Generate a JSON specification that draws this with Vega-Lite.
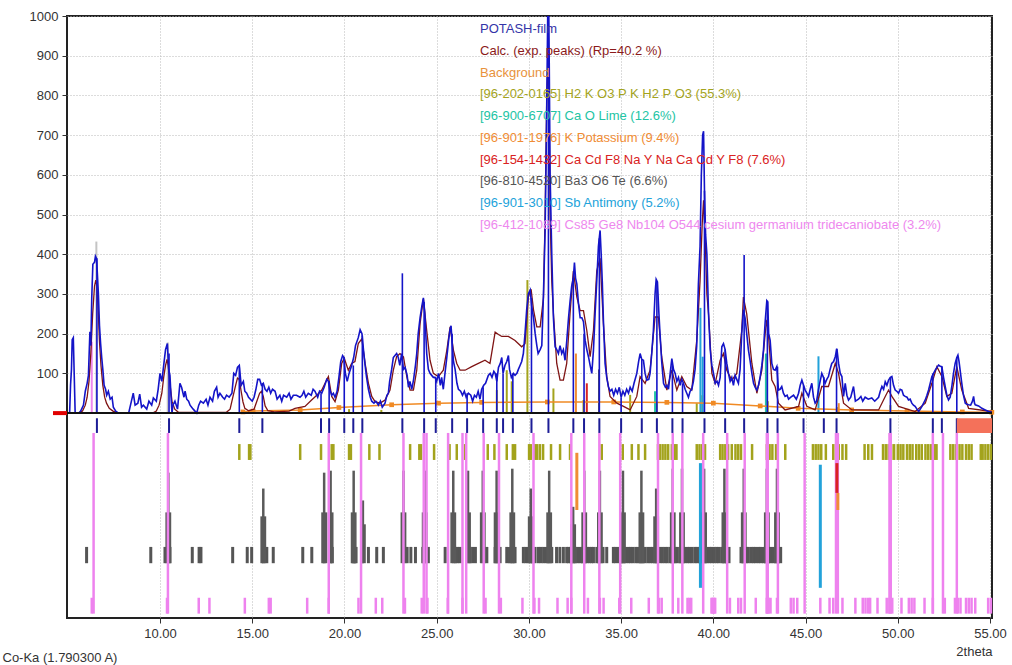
{
"$schema": "https://vega.github.io/schema/vega-lite/v6.json",
"width": 925, "height": 602,
"autosize": "none",
"padding": {"left": 67, "top": 16, "right": 20, "bottom": 47},
"background": "white",
"config": {"view": {"stroke": "#222", "strokeWidth": 2}, "font": "Liberation Sans"},
"datasets": {
"obs": [{"x":5.0,"y":0},{"x":5.1,"y":0},{"x":5.15,"y":70},{"x":5.2,"y":110},{"x":5.24,"y":185},{"x":5.3,"y":190},{"x":5.35,"y":95},{"x":5.4,"y":0},{"x":5.6,"y":0},{"x":5.7,"y":5},{"x":5.85,"y":20},{"x":5.95,"y":55},{"x":6.05,"y":75},{"x":6.12,"y":95},{"x":6.2,"y":205},{"x":6.25,"y":170},{"x":6.3,"y":290},{"x":6.36,"y":375},{"x":6.45,"y":380},{"x":6.5,"y":395},{"x":6.55,"y":390},{"x":6.6,"y":355},{"x":6.66,"y":300},{"x":6.72,"y":220},{"x":6.78,"y":175},{"x":6.84,"y":140},{"x":6.9,"y":110},{"x":6.97,"y":70},{"x":7.05,"y":60},{"x":7.11,"y":45},{"x":7.2,"y":55},{"x":7.3,"y":35},{"x":7.4,"y":40},{"x":7.47,"y":15},{"x":7.6,"y":5},{"x":7.75,"y":0},{"x":8.3,"y":0},{"x":8.45,"y":30},{"x":8.55,"y":50},{"x":8.65,"y":20},{"x":8.8,"y":25},{"x":8.9,"y":48},{"x":9.0,"y":15},{"x":9.1,"y":20},{"x":9.28,"y":10},{"x":9.4,"y":30},{"x":9.55,"y":20},{"x":9.64,"y":38},{"x":9.8,"y":30},{"x":9.9,"y":60},{"x":10.0,"y":100},{"x":10.1,"y":80},{"x":10.2,"y":120},{"x":10.3,"y":160},{"x":10.4,"y":175},{"x":10.47,"y":110},{"x":10.54,"y":95},{"x":10.6,"y":40},{"x":10.65,"y":0},{"x":10.7,"y":20},{"x":10.81,"y":30},{"x":10.95,"y":10},{"x":11.08,"y":75},{"x":11.17,"y":65},{"x":11.3,"y":40},{"x":11.36,"y":55},{"x":11.45,"y":35},{"x":11.55,"y":30},{"x":11.63,"y":20},{"x":11.8,"y":10},{"x":11.99,"y":0},{"x":12.1,"y":20},{"x":12.2,"y":30},{"x":12.35,"y":25},{"x":12.5,"y":35},{"x":12.6,"y":20},{"x":12.71,"y":40},{"x":12.85,"y":30},{"x":12.95,"y":55},{"x":13.07,"y":65},{"x":13.15,"y":40},{"x":13.25,"y":50},{"x":13.4,"y":40},{"x":13.5,"y":35},{"x":13.61,"y":45},{"x":13.75,"y":40},{"x":13.9,"y":50},{"x":14.0,"y":100},{"x":14.1,"y":95},{"x":14.2,"y":115},{"x":14.3,"y":120},{"x":14.4,"y":70},{"x":14.52,"y":80},{"x":14.6,"y":55},{"x":14.7,"y":50},{"x":14.8,"y":40},{"x":14.9,"y":35},{"x":15.0,"y":30},{"x":15.1,"y":40},{"x":15.2,"y":60},{"x":15.3,"y":85},{"x":15.4,"y":85},{"x":15.5,"y":70},{"x":15.6,"y":75},{"x":15.7,"y":60},{"x":15.8,"y":55},{"x":15.9,"y":65},{"x":16.0,"y":50},{"x":16.1,"y":60},{"x":16.24,"y":55},{"x":16.35,"y":35},{"x":16.5,"y":45},{"x":16.6,"y":30},{"x":16.7,"y":45},{"x":16.87,"y":40},{"x":17.0,"y":50},{"x":17.1,"y":35},{"x":17.23,"y":45},{"x":17.4,"y":45},{"x":17.59,"y":40},{"x":17.7,"y":45},{"x":17.8,"y":55},{"x":17.9,"y":40},{"x":18.04,"y":50},{"x":18.2,"y":45},{"x":18.3,"y":60},{"x":18.4,"y":55},{"x":18.55,"y":40},{"x":18.65,"y":55},{"x":18.77,"y":50},{"x":18.9,"y":65},{"x":19.04,"y":85},{"x":19.13,"y":80},{"x":19.2,"y":60},{"x":19.31,"y":45},{"x":19.4,"y":50},{"x":19.49,"y":40},{"x":19.6,"y":55},{"x":19.7,"y":90},{"x":19.8,"y":130},{"x":19.9,"y":145},{"x":19.97,"y":140},{"x":20.05,"y":100},{"x":20.15,"y":80},{"x":20.25,"y":100},{"x":20.39,"y":120},{"x":20.5,"y":140},{"x":20.6,"y":170},{"x":20.75,"y":190},{"x":20.85,"y":210},{"x":20.95,"y":200},{"x":21.03,"y":160},{"x":21.12,"y":120},{"x":21.2,"y":90},{"x":21.3,"y":60},{"x":21.4,"y":40},{"x":21.48,"y":30},{"x":21.6,"y":25},{"x":21.7,"y":30},{"x":21.84,"y":20},{"x":21.95,"y":30},{"x":22.05,"y":15},{"x":22.2,"y":25},{"x":22.3,"y":45},{"x":22.38,"y":50},{"x":22.45,"y":80},{"x":22.56,"y":110},{"x":22.65,"y":140},{"x":22.74,"y":145},{"x":22.83,"y":150},{"x":22.92,"y":140},{"x":23.0,"y":120},{"x":23.1,"y":150},{"x":23.2,"y":110},{"x":23.29,"y":115},{"x":23.4,"y":95},{"x":23.47,"y":65},{"x":23.55,"y":80},{"x":23.65,"y":60},{"x":23.75,"y":85},{"x":23.85,"y":120},{"x":23.92,"y":150},{"x":24.0,"y":200},{"x":24.1,"y":240},{"x":24.2,"y":270},{"x":24.28,"y":290},{"x":24.36,"y":250},{"x":24.46,"y":150},{"x":24.55,"y":110},{"x":24.64,"y":100},{"x":24.73,"y":95},{"x":24.82,"y":90},{"x":24.91,"y":90},{"x":25.0,"y":80},{"x":25.1,"y":100},{"x":25.2,"y":70},{"x":25.27,"y":90},{"x":25.36,"y":60},{"x":25.45,"y":100},{"x":25.55,"y":140},{"x":25.64,"y":180},{"x":25.72,"y":210},{"x":25.78,"y":220},{"x":25.85,"y":170},{"x":25.91,"y":130},{"x":26.0,"y":110},{"x":26.1,"y":75},{"x":26.18,"y":60},{"x":26.3,"y":55},{"x":26.4,"y":45},{"x":26.5,"y":55},{"x":26.6,"y":40},{"x":26.72,"y":50},{"x":26.85,"y":45},{"x":26.95,"y":30},{"x":27.05,"y":45},{"x":27.15,"y":40},{"x":27.25,"y":55},{"x":27.35,"y":35},{"x":27.44,"y":60},{"x":27.55,"y":70},{"x":27.65,"y":75},{"x":27.8,"y":95},{"x":27.9,"y":100},{"x":28.0,"y":90},{"x":28.1,"y":105},{"x":28.17,"y":100},{"x":28.26,"y":80},{"x":28.35,"y":115},{"x":28.45,"y":125},{"x":28.53,"y":140},{"x":28.6,"y":100},{"x":28.7,"y":120},{"x":28.8,"y":130},{"x":28.89,"y":145},{"x":28.95,"y":110},{"x":29.05,"y":90},{"x":29.16,"y":100},{"x":29.25,"y":95},{"x":29.35,"y":100},{"x":29.43,"y":110},{"x":29.52,"y":120},{"x":29.61,"y":130},{"x":29.7,"y":150},{"x":29.79,"y":200},{"x":29.88,"y":260},{"x":29.97,"y":300},{"x":30.07,"y":310},{"x":30.15,"y":270},{"x":30.25,"y":240},{"x":30.34,"y":200},{"x":30.43,"y":170},{"x":30.5,"y":150},{"x":30.61,"y":160},{"x":30.7,"y":170},{"x":30.79,"y":300},{"x":30.88,"y":460},{"x":30.95,"y":700},{"x":31.02,"y":1000},{"x":31.06,"y":1050},{"x":31.1,"y":900},{"x":31.15,"y":600},{"x":31.24,"y":400},{"x":31.33,"y":240},{"x":31.42,"y":167},{"x":31.51,"y":160},{"x":31.6,"y":150},{"x":31.69,"y":170},{"x":31.78,"y":150},{"x":31.87,"y":160},{"x":31.96,"y":133},{"x":32.05,"y":180},{"x":32.15,"y":240},{"x":32.23,"y":280},{"x":32.32,"y":320},{"x":32.41,"y":340},{"x":32.47,"y":379},{"x":32.53,"y":340},{"x":32.6,"y":325},{"x":32.69,"y":275},{"x":32.78,"y":240},{"x":32.87,"y":240},{"x":32.96,"y":230},{"x":33.05,"y":183},{"x":33.14,"y":160},{"x":33.23,"y":142},{"x":33.32,"y":120},{"x":33.41,"y":100},{"x":33.5,"y":158},{"x":33.59,"y":250},{"x":33.68,"y":333},{"x":33.77,"y":420},{"x":33.86,"y":460},{"x":33.92,"y":400},{"x":33.98,"y":330},{"x":34.04,"y":233},{"x":34.13,"y":125},{"x":34.22,"y":90},{"x":34.31,"y":67},{"x":34.4,"y":55},{"x":34.5,"y":60},{"x":34.6,"y":45},{"x":34.7,"y":60},{"x":34.8,"y":50},{"x":34.9,"y":65},{"x":35.0,"y":40},{"x":35.1,"y":55},{"x":35.2,"y":45},{"x":35.3,"y":60},{"x":35.4,"y":50},{"x":35.49,"y":65},{"x":35.6,"y":55},{"x":35.7,"y":75},{"x":35.85,"y":100},{"x":35.95,"y":130},{"x":36.03,"y":150},{"x":36.12,"y":135},{"x":36.21,"y":133},{"x":36.3,"y":100},{"x":36.39,"y":83},{"x":36.5,"y":85},{"x":36.57,"y":100},{"x":36.66,"y":150},{"x":36.75,"y":208},{"x":36.84,"y":300},{"x":36.9,"y":337},{"x":36.97,"y":330},{"x":37.05,"y":250},{"x":37.11,"y":200},{"x":37.2,"y":130},{"x":37.3,"y":75},{"x":37.4,"y":65},{"x":37.48,"y":70},{"x":37.57,"y":60},{"x":37.66,"y":100},{"x":37.75,"y":137},{"x":37.84,"y":110},{"x":37.93,"y":100},{"x":38.02,"y":80},{"x":38.11,"y":90},{"x":38.2,"y":70},{"x":38.29,"y":85},{"x":38.38,"y":75},{"x":38.47,"y":60},{"x":38.56,"y":50},{"x":38.65,"y":40},{"x":38.74,"y":55},{"x":38.83,"y":60},{"x":38.92,"y":80},{"x":39.01,"y":110},{"x":39.1,"y":170},{"x":39.19,"y":325},{"x":39.28,"y":420},{"x":39.35,"y":600},{"x":39.42,"y":700},{"x":39.47,"y":710},{"x":39.52,"y":560},{"x":39.58,"y":450},{"x":39.65,"y":400},{"x":39.74,"y":250},{"x":39.83,"y":160},{"x":39.92,"y":120},{"x":40.01,"y":100},{"x":40.1,"y":75},{"x":40.2,"y":80},{"x":40.28,"y":70},{"x":40.37,"y":90},{"x":40.46,"y":167},{"x":40.55,"y":175},{"x":40.64,"y":160},{"x":40.73,"y":125},{"x":40.82,"y":100},{"x":40.91,"y":80},{"x":41.0,"y":90},{"x":41.09,"y":70},{"x":41.18,"y":95},{"x":41.27,"y":85},{"x":41.36,"y":75},{"x":41.45,"y":110},{"x":41.54,"y":200},{"x":41.63,"y":260},{"x":41.72,"y":240},{"x":41.81,"y":200},{"x":41.9,"y":160},{"x":41.99,"y":133},{"x":42.09,"y":100},{"x":42.18,"y":75},{"x":42.27,"y":65},{"x":42.36,"y":58},{"x":42.45,"y":70},{"x":42.54,"y":92},{"x":42.63,"y":120},{"x":42.72,"y":160},{"x":42.81,"y":230},{"x":42.9,"y":283},{"x":42.95,"y":280},{"x":43.0,"y":200},{"x":43.08,"y":183},{"x":43.17,"y":125},{"x":43.26,"y":110},{"x":43.35,"y":108},{"x":43.44,"y":117},{"x":43.53,"y":58},{"x":43.62,"y":60},{"x":43.71,"y":67},{"x":43.8,"y":50},{"x":43.89,"y":42},{"x":44.0,"y":45},{"x":44.08,"y":35},{"x":44.2,"y":40},{"x":44.35,"y":45},{"x":44.5,"y":35},{"x":44.62,"y":50},{"x":44.71,"y":70},{"x":44.8,"y":83},{"x":44.89,"y":70},{"x":44.98,"y":58},{"x":45.07,"y":50},{"x":45.16,"y":42},{"x":45.25,"y":60},{"x":45.34,"y":75},{"x":45.43,"y":40},{"x":45.52,"y":25},{"x":45.6,"y":30},{"x":45.7,"y":60},{"x":45.79,"y":80},{"x":45.88,"y":100},{"x":45.97,"y":90},{"x":46.06,"y":75},{"x":46.15,"y":85},{"x":46.24,"y":92},{"x":46.33,"y":110},{"x":46.42,"y":125},{"x":46.52,"y":130},{"x":46.61,"y":142},{"x":46.7,"y":162},{"x":46.79,"y":125},{"x":46.88,"y":100},{"x":46.97,"y":92},{"x":47.06,"y":42},{"x":47.15,"y":75},{"x":47.24,"y":45},{"x":47.33,"y":33},{"x":47.45,"y":40},{"x":47.6,"y":67},{"x":47.7,"y":30},{"x":47.87,"y":35},{"x":48.0,"y":42},{"x":48.1,"y":30},{"x":48.23,"y":40},{"x":48.4,"y":35},{"x":48.59,"y":38},{"x":48.75,"y":30},{"x":48.96,"y":40},{"x":49.05,"y":55},{"x":49.14,"y":67},{"x":49.23,"y":60},{"x":49.32,"y":79},{"x":49.41,"y":70},{"x":49.5,"y":83},{"x":49.6,"y":90},{"x":49.68,"y":92},{"x":49.77,"y":70},{"x":49.86,"y":58},{"x":49.95,"y":55},{"x":50.04,"y":50},{"x":50.13,"y":60},{"x":50.22,"y":58},{"x":50.31,"y":45},{"x":50.4,"y":42},{"x":50.5,"y":40},{"x":50.58,"y":33},{"x":50.67,"y":35},{"x":50.76,"y":25},{"x":50.85,"y":20},{"x":50.94,"y":17},{"x":51.04,"y":10},{"x":51.13,"y":4},{"x":51.22,"y":10},{"x":51.31,"y":17},{"x":51.4,"y":25},{"x":51.49,"y":33},{"x":51.58,"y":45},{"x":51.67,"y":58},{"x":51.76,"y":75},{"x":51.85,"y":92},{"x":51.94,"y":100},{"x":52.03,"y":108},{"x":52.12,"y":115},{"x":52.21,"y":121},{"x":52.3,"y":118},{"x":52.39,"y":117},{"x":52.48,"y":90},{"x":52.57,"y":67},{"x":52.66,"y":45},{"x":52.75,"y":33},{"x":52.84,"y":40},{"x":52.93,"y":67},{"x":53.02,"y":100},{"x":53.11,"y":125},{"x":53.2,"y":140},{"x":53.26,"y":146},{"x":53.32,"y":130},{"x":53.38,"y":108},{"x":53.47,"y":75},{"x":53.56,"y":45},{"x":53.66,"y":25},{"x":53.75,"y":22},{"x":53.84,"y":21},{"x":53.95,"y":20},{"x":54.05,"y":30},{"x":54.11,"y":42},{"x":54.16,"y":25},{"x":54.2,"y":21},{"x":54.38,"y":18},{"x":54.56,"y":12},{"x":54.74,"y":8},{"x":54.92,"y":4},{"x":55.1,"y":2}],
"calc": [{"x":5.0,"y":0},{"x":5.6,"y":0},{"x":5.8,"y":5},{"x":5.95,"y":20},{"x":6.05,"y":40},{"x":6.15,"y":80},{"x":6.25,"y":150},{"x":6.35,"y":250},{"x":6.45,"y":320},{"x":6.52,"y":335},{"x":6.58,"y":320},{"x":6.65,"y":260},{"x":6.72,"y":180},{"x":6.8,"y":120},{"x":6.9,"y":70},{"x":7.0,"y":40},{"x":7.1,"y":25},{"x":7.25,"y":12},{"x":7.45,"y":5},{"x":7.7,"y":0},{"x":9.6,"y":0},{"x":9.8,"y":5},{"x":9.95,"y":20},{"x":10.1,"y":50},{"x":10.2,"y":90},{"x":10.3,"y":120},{"x":10.38,"y":135},{"x":10.45,"y":120},{"x":10.55,"y":70},{"x":10.65,"y":30},{"x":10.8,"y":10},{"x":11.0,"y":2},{"x":13.6,"y":2},{"x":13.8,"y":10},{"x":13.95,"y":40},{"x":14.1,"y":70},{"x":14.2,"y":88},{"x":14.3,"y":85},{"x":14.4,"y":55},{"x":14.5,"y":28},{"x":14.6,"y":12},{"x":14.8,"y":6},{"x":15.1,"y":10},{"x":15.25,"y":30},{"x":15.4,"y":50},{"x":15.5,"y":55},{"x":15.6,"y":42},{"x":15.7,"y":18},{"x":15.85,"y":6},{"x":16.2,"y":3},{"x":17.0,"y":5},{"x":17.32,"y":12},{"x":17.86,"y":17},{"x":18.22,"y":33},{"x":18.5,"y":45},{"x":18.77,"y":58},{"x":18.95,"y":75},{"x":19.13,"y":92},{"x":19.31,"y":42},{"x":19.49,"y":29},{"x":19.67,"y":58},{"x":19.85,"y":125},{"x":19.99,"y":138},{"x":20.21,"y":108},{"x":20.39,"y":125},{"x":20.57,"y":130},{"x":20.75,"y":175},{"x":20.94,"y":187},{"x":21.12,"y":125},{"x":21.3,"y":75},{"x":21.48,"y":42},{"x":21.66,"y":29},{"x":21.93,"y":25},{"x":22.2,"y":33},{"x":22.47,"y":58},{"x":22.65,"y":108},{"x":22.83,"y":142},{"x":23.01,"y":150},{"x":23.2,"y":142},{"x":23.38,"y":92},{"x":23.56,"y":58},{"x":23.74,"y":58},{"x":23.92,"y":108},{"x":24.1,"y":225},{"x":24.28,"y":288},{"x":24.46,"y":208},{"x":24.64,"y":133},{"x":24.82,"y":100},{"x":25.09,"y":92},{"x":25.36,"y":108},{"x":25.55,"y":158},{"x":25.73,"y":217},{"x":25.91,"y":158},{"x":26.09,"y":125},{"x":26.27,"y":108},{"x":26.54,"y":108},{"x":26.9,"y":117},{"x":27.26,"y":125},{"x":27.62,"y":133},{"x":27.89,"y":125},{"x":28.05,"y":170},{"x":28.17,"y":204},{"x":28.35,"y":198},{"x":28.53,"y":193},{"x":28.89,"y":193},{"x":29.25,"y":183},{"x":29.61,"y":167},{"x":29.79,"y":175},{"x":29.97,"y":292},{"x":30.12,"y":312},{"x":30.25,"y":260},{"x":30.43,"y":217},{"x":30.61,"y":217},{"x":30.79,"y":290},{"x":30.88,"y":500},{"x":30.97,"y":800},{"x":31.04,"y":880},{"x":31.1,"y":750},{"x":31.15,"y":500},{"x":31.24,"y":333},{"x":31.33,"y":250},{"x":31.51,"y":125},{"x":31.69,"y":83},{"x":31.87,"y":83},{"x":32.05,"y":125},{"x":32.23,"y":250},{"x":32.41,"y":358},{"x":32.6,"y":292},{"x":32.78,"y":258},{"x":32.96,"y":258},{"x":33.14,"y":208},{"x":33.32,"y":142},{"x":33.5,"y":208},{"x":33.68,"y":358},{"x":33.86,"y":390},{"x":34.04,"y":225},{"x":34.22,"y":92},{"x":34.4,"y":42},{"x":34.77,"y":25},{"x":35.13,"y":17},{"x":35.49,"y":8},{"x":35.85,"y":42},{"x":36.03,"y":92},{"x":36.3,"y":75},{"x":36.57,"y":108},{"x":36.84,"y":242},{"x":37.02,"y":242},{"x":37.2,"y":142},{"x":37.48,"y":58},{"x":37.75,"y":108},{"x":38.02,"y":58},{"x":38.29,"y":92},{"x":38.56,"y":67},{"x":38.83,"y":58},{"x":39.1,"y":183},{"x":39.28,"y":333},{"x":39.4,"y":480},{"x":39.47,"y":536},{"x":39.55,"y":450},{"x":39.65,"y":300},{"x":39.74,"y":250},{"x":39.92,"y":100},{"x":40.1,"y":75},{"x":40.37,"y":133},{"x":40.55,"y":150},{"x":40.73,"y":108},{"x":41.0,"y":83},{"x":41.27,"y":100},{"x":41.54,"y":208},{"x":41.63,"y":292},{"x":41.81,"y":250},{"x":42.09,"y":125},{"x":42.36,"y":50},{"x":42.63,"y":108},{"x":42.81,"y":200},{"x":42.9,"y":235},{"x":43.0,"y":190},{"x":43.17,"y":83},{"x":43.35,"y":67},{"x":43.53,"y":25},{"x":43.89,"y":8},{"x":44.62,"y":17},{"x":44.8,"y":50},{"x":45.07,"y":17},{"x":45.52,"y":8},{"x":45.88,"y":67},{"x":46.24,"y":67},{"x":46.61,"y":125},{"x":46.79,"y":100},{"x":47.06,"y":25},{"x":47.51,"y":8},{"x":48.96,"y":8},{"x":49.32,"y":42},{"x":49.5,"y":58},{"x":49.68,"y":42},{"x":50.04,"y":17},{"x":50.94,"y":4},{"x":51.49,"y":25},{"x":51.85,"y":75},{"x":52.12,"y":117},{"x":52.39,"y":92},{"x":52.66,"y":42},{"x":52.93,"y":50},{"x":53.2,"y":117},{"x":53.47,"y":58},{"x":53.84,"y":12},{"x":55.1,"y":4}],
"bg": [{"x":14.5,"y":3},{"x":15.05,"y":5},{"x":17.6,"y":8},{"x":19.7,"y":14},{"x":22.56,"y":21},{"x":25.1,"y":25},{"x":27.44,"y":27},{"x":31.0,"y":28},{"x":34.6,"y":28},{"x":37.48,"y":27},{"x":40.0,"y":25},{"x":42.54,"y":18},{"x":44.6,"y":12},{"x":47.5,"y":8},{"x":50.5,"y":5},{"x":53.5,"y":3},{"x":55.1,"y":2}],
"peaks": [{"x":6.58,"i":390},{"x":10.49,"i":150},{"x":14.3,"i":115},{"x":15.55,"i":75},{"x":18.73,"i":50},{"x":19.17,"i":80},{"x":19.99,"i":140},{"x":20.48,"i":120},{"x":20.97,"i":195},{"x":23.14,"i":352},{"x":24.32,"i":280},{"x":24.95,"i":90},{"x":25.84,"i":200},{"x":26.65,"i":50},{"x":27.52,"i":65},{"x":28.26,"i":100},{"x":28.6,"i":100},{"x":29.13,"i":100},{"x":30.14,"i":290},{"x":31.06,"i":1000},{"x":32.41,"i":340},{"x":32.99,"i":200},{"x":33.82,"i":440},{"x":35.0,"i":40},{"x":36.12,"i":135},{"x":36.94,"i":330},{"x":37.78,"i":120},{"x":38.33,"i":75},{"x":39.52,"i":560},{"x":40.64,"i":160},{"x":41.67,"i":398},{"x":42.93,"i":283},{"x":43.48,"i":117},{"x":44.89,"i":70},{"x":45.99,"i":90},{"x":46.68,"i":162},{"x":49.6,"i":90},{"x":51.9,"i":100},{"x":52.39,"i":117},{"x":53.2,"i":140}],
"upsticks": [{"x":6.55,"i":432,"k":"ref"},{"x":10.42,"i":178,"k":"ref"},{"x":6.3,"i":180,"k":"cs"},{"x":20.25,"i":10,"k":"kp"},{"x":22.0,"i":8,"k":"kp"},{"x":28.26,"i":58,"k":"kp"},{"x":28.8,"i":108,"k":"kp"},{"x":29.07,"i":80,"k":"kp"},{"x":29.92,"i":335,"k":"kp"},{"x":31.33,"i":62,"k":"kp"},{"x":32.96,"i":33,"k":"kp"},{"x":35.49,"i":46,"k":"kp"},{"x":36.93,"i":25,"k":"kp"},{"x":39.1,"i":25,"k":"kp"},{"x":39.4,"i":45,"k":"kp"},{"x":42.95,"i":30,"k":"kp"},{"x":46.7,"i":15,"k":"kp"},{"x":49.6,"i":20,"k":"kp"},{"x":32.55,"i":150,"k":"k"},{"x":46.8,"i":25,"k":"k"},{"x":33.14,"i":75,"k":"cacd"},{"x":33.8,"i":110,"k":"ba"},{"x":36.84,"i":55,"k":"lime"},{"x":42.85,"i":150,"k":"lime"},{"x":39.3,"i":265,"k":"sb"},{"x":39.42,"i":142,"k":"sb"},{"x":45.7,"i":143,"k":"sb"}],
"lowsticks": [{"x":39.3,"t":-126,"b":-440,"k":"sb"},{"x":45.8,"t":-130,"b":-440,"k":"sb"},{"x":32.6,"t":-100,"b":-244,"k":"k"},{"x":46.75,"t":-201,"b":-244,"k":"k"},{"x":46.7,"t":-126,"b":-201,"k":"cacd"}],
"olive": [{"x":14.3},{"x":14.83},{"x":14.9},{"x":17.6},{"x":18.73},{"x":19.31},{"x":19.4},{"x":20.25},{"x":20.35},{"x":21.35},{"x":21.9},{"x":23.56},{"x":24.06},{"x":24.15},{"x":24.86},{"x":25.64},{"x":25.7},{"x":26.09},{"x":26.54},{"x":27.77},{"x":28.13},{"x":28.8},{"x":29.13},{"x":29.25},{"x":30.01},{"x":30.1},{"x":30.34},{"x":30.45},{"x":30.6},{"x":30.77},{"x":31.2},{"x":31.69},{"x":32.23},{"x":33.95},{"x":35.09},{"x":35.58},{"x":35.94},{"x":36.3},{"x":37.0},{"x":37.1},{"x":37.25},{"x":37.4},{"x":37.55},{"x":37.75},{"x":37.9},{"x":38.0},{"x":39.1},{"x":39.25},{"x":39.4},{"x":39.55},{"x":40.37},{"x":40.5},{"x":40.65},{"x":40.8},{"x":41.0},{"x":41.2},{"x":41.35},{"x":41.5},{"x":42.1},{"x":42.9},{"x":43.05},{"x":43.2},{"x":43.4},{"x":43.9},{"x":45.4},{"x":45.55},{"x":45.7},{"x":45.85},{"x":46.1},{"x":46.5},{"x":46.65},{"x":46.8},{"x":47.0},{"x":47.2},{"x":48.2},{"x":48.4},{"x":48.6},{"x":49.2},{"x":49.35},{"x":49.5},{"x":49.65},{"x":49.8},{"x":50.0},{"x":50.15},{"x":50.3},{"x":50.5},{"x":50.65},{"x":50.8},{"x":51.0},{"x":51.15},{"x":51.3},{"x":51.5},{"x":51.65},{"x":51.8},{"x":52.0},{"x":52.1},{"x":52.85},{"x":53.0},{"x":53.15},{"x":53.35},{"x":53.5},{"x":53.7},{"x":53.85},{"x":54.0},{"x":54.5},{"x":54.6},{"x":54.75},{"x":54.9},{"x":55.05}],
"grayd": [{"x":6.02},{"x":9.5},{"x":10.27},{"x":10.54},{"x":11.75},{"x":12.12},{"x":12.22},{"x":13.94},{"x":14.73},{"x":14.97},{"x":15.6},{"x":15.79},{"x":16.14},{"x":17.74},{"x":18.23},{"x":18.89},{"x":19.22},{"x":19.34},{"x":20.47},{"x":20.55},{"x":20.63},{"x":20.94},{"x":21.3},{"x":21.75},{"x":22.11},{"x":23.4},{"x":23.6},{"x":23.85},{"x":24.25},{"x":24.4},{"x":24.55},{"x":25.46},{"x":26.0},{"x":26.13},{"x":26.27},{"x":26.81},{"x":26.95},{"x":27.1},{"x":27.72},{"x":28.17},{"x":28.3},{"x":28.44},{"x":28.8},{"x":28.95},{"x":29.1},{"x":29.25},{"x":29.7},{"x":29.83},{"x":29.96},{"x":30.1},{"x":30.22},{"x":30.34},{"x":30.52},{"x":30.66},{"x":30.8},{"x":30.94},{"x":31.08},{"x":31.24},{"x":31.5},{"x":31.68},{"x":31.87},{"x":32.05},{"x":32.15},{"x":32.27},{"x":32.4},{"x":32.52},{"x":32.65},{"x":32.78},{"x":32.9},{"x":33.02},{"x":33.15},{"x":33.28},{"x":33.4},{"x":33.5},{"x":33.68},{"x":33.85},{"x":34.02},{"x":34.22},{"x":34.58},{"x":34.7},{"x":34.85},{"x":35.0},{"x":35.12},{"x":35.25},{"x":35.4},{"x":35.52},{"x":35.65},{"x":35.8},{"x":35.92},{"x":36.05},{"x":36.18},{"x":36.3},{"x":36.45},{"x":36.58},{"x":36.7},{"x":36.85},{"x":36.98},{"x":37.1},{"x":37.24},{"x":37.38},{"x":37.5},{"x":37.65},{"x":37.78},{"x":37.92},{"x":38.05},{"x":38.2},{"x":38.32},{"x":38.45},{"x":38.6},{"x":38.72},{"x":38.85},{"x":39.0},{"x":39.12},{"x":39.25},{"x":39.38},{"x":39.5},{"x":39.65},{"x":39.78},{"x":39.9},{"x":40.05},{"x":40.18},{"x":40.3},{"x":40.45},{"x":40.58},{"x":40.72},{"x":40.85},{"x":41.5},{"x":41.63},{"x":41.78},{"x":41.9},{"x":42.05},{"x":42.18},{"x":42.3},{"x":42.45},{"x":42.58},{"x":42.72},{"x":42.85},{"x":43.0},{"x":43.12},{"x":43.25},{"x":43.4},{"x":43.52},{"x":43.65}],
"grayt": [{"x":10.45,"t":-150},{"x":10.36,"t":-250},{"x":10.54,"t":-250},{"x":15.6,"t":-190},{"x":15.51,"t":-260},{"x":15.69,"t":-260},{"x":18.9,"t":-150},{"x":18.81,"t":-250},{"x":18.99,"t":-250},{"x":19.25,"t":-145},{"x":19.16,"t":-250},{"x":19.34,"t":-250},{"x":20.5,"t":-145},{"x":20.41,"t":-250},{"x":20.59,"t":-250},{"x":21.0,"t":-220},{"x":20.91,"t":-280},{"x":21.09,"t":-280},{"x":23.2,"t":-145},{"x":23.11,"t":-250},{"x":23.29,"t":-250},{"x":24.35,"t":-145},{"x":24.26,"t":-250},{"x":24.44,"t":-250},{"x":25.9,"t":-145},{"x":25.81,"t":-250},{"x":25.99,"t":-250},{"x":26.7,"t":-145},{"x":26.61,"t":-250},{"x":26.79,"t":-250},{"x":27.5,"t":-145},{"x":27.41,"t":-250},{"x":27.59,"t":-250},{"x":28.25,"t":-145},{"x":28.16,"t":-250},{"x":28.34,"t":-250},{"x":29.1,"t":-140},{"x":29.01,"t":-250},{"x":29.19,"t":-250},{"x":30.1,"t":-190},{"x":30.01,"t":-260},{"x":30.19,"t":-260},{"x":31.1,"t":-145},{"x":31.01,"t":-250},{"x":31.19,"t":-250},{"x":32.4,"t":-236},{"x":32.31,"t":-280},{"x":32.49,"t":-280},{"x":33.0,"t":-145},{"x":32.91,"t":-250},{"x":33.09,"t":-250},{"x":33.85,"t":-145},{"x":33.76,"t":-250},{"x":33.94,"t":-250},{"x":35.1,"t":-145},{"x":35.01,"t":-250},{"x":35.19,"t":-250},{"x":36.1,"t":-145},{"x":36.01,"t":-250},{"x":36.19,"t":-250},{"x":36.9,"t":-190},{"x":36.81,"t":-260},{"x":36.99,"t":-260},{"x":37.8,"t":-140},{"x":37.71,"t":-250},{"x":37.89,"t":-250},{"x":38.3,"t":-140},{"x":38.21,"t":-250},{"x":38.39,"t":-250},{"x":39.5,"t":-140},{"x":39.41,"t":-250},{"x":39.59,"t":-250},{"x":40.6,"t":-140},{"x":40.51,"t":-250},{"x":40.69,"t":-250},{"x":41.65,"t":-140},{"x":41.56,"t":-250},{"x":41.74,"t":-250},{"x":42.9,"t":-140},{"x":42.81,"t":-250},{"x":42.99,"t":-250},{"x":43.45,"t":-140},{"x":43.36,"t":-250},{"x":43.54,"t":-250}],
"pinks": [{"x":6.3},{"x":10.38},{"x":12.1},{"x":12.68},{"x":14.6},{"x":15.9},{"x":16.0},{"x":17.98},{"x":19.15},{"x":20.76},{"x":21.7},{"x":22.05},{"x":23.28},{"x":24.19},{"x":24.5},{"x":25.6},{"x":26.4},{"x":27.65},{"x":28.48},{"x":29.65},{"x":30.3},{"x":30.55},{"x":31.55},{"x":32.1},{"x":32.3},{"x":33.2},{"x":33.85},{"x":34.05},{"x":34.9},{"x":35.55},{"x":36.5},{"x":37.05},{"x":37.2},{"x":38.1},{"x":38.6},{"x":38.7},{"x":38.8},{"x":39.9},{"x":39.95},{"x":40.0},{"x":40.05},{"x":40.1},{"x":40.9},{"x":41.35},{"x":41.5},{"x":42.3},{"x":42.9},{"x":43.0},{"x":43.1},{"x":43.45},{"x":44.2},{"x":44.35},{"x":44.55},{"x":45.8},{"x":46.3},{"x":46.5},{"x":47.0},{"x":47.7},{"x":48.1},{"x":48.25},{"x":48.4},{"x":48.5},{"x":48.9},{"x":49.4},{"x":49.55},{"x":49.7},{"x":50.2},{"x":50.6},{"x":50.75},{"x":50.9},{"x":51.45},{"x":51.9},{"x":52.55},{"x":53.1},{"x":53.25},{"x":53.4},{"x":53.7},{"x":53.85},{"x":54.0},{"x":54.2},{"x":54.9},{"x":55.05}],
"pinkl": [{"x":6.4},{"x":10.43},{"x":19.15},{"x":20.9},{"x":23.2},{"x":24.3},{"x":24.45},{"x":25.62},{"x":26.4},{"x":26.6},{"x":27.55},{"x":28.38},{"x":30.25},{"x":32.3},{"x":33.0},{"x":33.82},{"x":34.95},{"x":37.0},{"x":37.8},{"x":38.32},{"x":39.45},{"x":40.75},{"x":41.7},{"x":42.9},{"x":42.95},{"x":43.5},{"x":44.95},{"x":46.65},{"x":46.75},{"x":49.55},{"x":49.62},{"x":51.9},{"x":52.45},{"x":53.2}],
"legend": [{"k":"obs","label":"POTASH-film"},{"k":"calc","label":"Calc. (exp. peaks) (Rp=40.2 %)"},{"k":"bg","label":"Background"},{"k":"kp","label":"[96-202-0165] H2 K O3 P K H2 P O3 (55.3%)"},{"k":"lime","label":"[96-900-6707] Ca O  Lime (12.6%)"},{"k":"k","label":"[96-901-1976] K Potassium (9.4%)"},{"k":"cacd","label":"[96-154-1432] Ca Cd F8 Na Y Na Ca Cd Y F8 (7.6%)"},{"k":"ba","label":"[96-810-4520] Ba3 O6 Te  (6.6%)"},{"k":"sb","label":"[96-901-3010] Sb  Antimony (5.2%)"},{"k":"cs","label":"[96-412-1089] Cs85 Ge8 Nb104 O544 cesium germanium tridecaniobate (3.2%)"}]
},
"layer": [
{"layer": [
 {"data": {"name": "grayd"}, "mark": {"type": "rule", "color": "#555555", "strokeWidth": 3},
  "encoding": {"x": {"field": "x", "type": "quantitative"}, "y": {"datum": -337}, "y2": {"datum": -378}}},
 {"data": {"name": "grayt"}, "mark": {"type": "rule", "color": "#5a5a5a", "strokeWidth": 2.5},
  "encoding": {"x": {"field": "x", "type": "quantitative"}, "y": {"field": "t", "type": "quantitative"}, "y2": {"datum": -378}}},
 {"data": {"name": "olive"}, "mark": {"type": "rule", "color": "#a3a31c", "strokeWidth": 2.5},
  "encoding": {"x": {"field": "x", "type": "quantitative"}, "y": {"datum": -78}, "y2": {"datum": -118}}},
 {"data": {"name": "pinkl"}, "mark": {"type": "rule", "color": "#ee82ee", "strokeWidth": 2.5},
  "encoding": {"x": {"field": "x", "type": "quantitative"}, "y": {"datum": -50}, "y2": {"datum": -505}}},
 {"data": {"name": "pinks"}, "mark": {"type": "rule", "color": "#ee82ee", "strokeWidth": 2.5},
  "encoding": {"x": {"field": "x", "type": "quantitative"}, "y": {"datum": -465}, "y2": {"datum": -505}}},
 {"data": {"name": "lowsticks"}, "mark": {"type": "rule", "strokeWidth": 3},
  "encoding": {"x": {"field": "x", "type": "quantitative"}, "y": {"field": "t", "type": "quantitative"}, "y2": {"field": "b"},
   "color": {"field": "k", "type": "nominal", "legend": null, "scale": {"domain": ["obs","calc","bg","kp","lime","k","cacd","ba","sb","cs","pk","ref"], "range": ["#3434a8","#8b1a1a","#e8923c","#a3a31c","#22c4a4","#f08c34","#d92222","#555555","#22a2da","#ee88ee","#1c1c96","#c4c4c4"]}}}},
 {"data": {"name": "peaks"}, "mark": {"type": "rule", "color": "#1c1c96", "strokeWidth": 2},
  "encoding": {"x": {"field": "x", "type": "quantitative"}, "y": {"datum": -13}, "y2": {"datum": -50}}},
 {"data": {"values": [{}]}, "mark": {"type": "rect", "color": "#f4715a"},
  "encoding": {"x": {"datum": 53.2}, "x2": {"datum": 55.108}, "y": {"datum": -13}, "y2": {"datum": -50}}},
 {"data": {"name": "upsticks"}, "mark": {"type": "rule", "strokeWidth": 2},
  "encoding": {"x": {"field": "x", "type": "quantitative"}, "y": {"field": "i", "type": "quantitative"}, "y2": {"datum": 0},
   "color": {"field": "k", "type": "nominal", "legend": null}}},
 {"data": {"name": "bg"}, "mark": {"type": "line", "color": "#f08a24", "strokeWidth": 1.5, "point": {"shape": "square", "size": 22, "color": "#f08a24", "filled": true}},
  "encoding": {"x": {"field": "x", "type": "quantitative"}, "y": {"field": "y", "type": "quantitative"}}},
 {"data": {"name": "calc"}, "mark": {"type": "line", "color": "#7f1414", "strokeWidth": 1.3, "clip": true},
  "encoding": {"x": {"field": "x", "type": "quantitative"}, "y": {"field": "y", "type": "quantitative"}}},
 {"data": {"name": "obs"}, "mark": {"type": "line", "color": "#1414c8", "strokeWidth": 1.6, "clip": true},
  "encoding": {
   "x": {"field": "x", "type": "quantitative", "scale": {"domain": [4.958, 55.108], "nice": false, "zero": false},
    "axis": {"values": [10,15,20,25,30,35,40,45,50,55], "format": ".2f", "title": "2theta", "grid": true, "gridColor": "#b8b8b8", "gridDash": [1,2], "domain": false, "tickColor": "#333", "tickSize": 5, "labelFontSize": 13, "labelColor": "#333", "labelPadding": 4, "labelFont": "Liberation Sans", "titleFont": "Liberation Sans", "titleFontSize": 13, "titleFontWeight": "normal", "titleColor": "#333", "titleAnchor": "end", "titlePadding": 5}},
   "y": {"field": "y", "type": "quantitative", "scale": {"domain": [-516, 1000], "nice": false, "zero": false},
    "axis": {"values": [100,200,300,400,500,600,700,800,900,1000], "format": "d", "grid": true, "gridColor": "#b8b8b8", "gridDash": [1,2], "domain": false, "tickColor": "#333", "tickSize": 5, "labelFontSize": 13, "labelColor": "#333", "labelPadding": 4, "labelFont": "Liberation Sans", "title": "Co-Ka (1.790300 A)", "titleAngle": 0, "titleX": -65, "titleY": 641, "titleAlign": "left", "titleBaseline": "middle", "titleFont": "Liberation Sans", "titleFontSize": 13, "titleFontWeight": "normal", "titleColor": "#333"}}
  }},
 {"data": {"name": "peaks"}, "mark": {"type": "rule", "color": "#1414c8", "strokeWidth": 1.6, "clip": true},
  "encoding": {"x": {"field": "x", "type": "quantitative"}, "y": {"field": "i", "type": "quantitative"}, "y2": {"datum": 0}}},
 {"data": {"values": [{}]}, "mark": {"type": "rule", "color": "#111111", "strokeWidth": 2},
  "encoding": {"y": {"datum": 0}}},
 {"data": {"values": [{}]}, "mark": {"type": "rule", "color": "#e00000", "strokeWidth": 4, "clip": false},
  "encoding": {"x": {"datum": 4.2}, "x2": {"datum": 4.958}, "y": {"datum": 0}}}
]},
{"data": {"name": "legend"}, "mark": {"type": "text", "align": "left", "baseline": "middle", "fontSize": 13, "font": "Liberation Sans"},
 "encoding": {
  "x": {"datum": 27.35},
  "y": {"field": "k", "type": "ordinal", "scale": {"type": "point", "domain": ["obs","calc","bg","kp","lime","k","cacd","ba","sb","cs"], "range": [13, 209], "padding": 0}, "axis": null},
  "text": {"field": "label"},
  "color": {"field": "k", "type": "nominal", "legend": null}
 }}
],
"resolve": {"scale": {"y": "independent"}}
}
